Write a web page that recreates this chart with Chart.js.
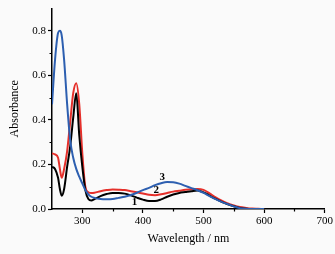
<!DOCTYPE html>
<html>
<head>
<meta charset="utf-8">
<script src="https://cdn.jsdelivr.net/npm/chart.js@4.4.1/dist/chart.umd.min.js"></script>
<style>
  html, body { margin: 0; padding: 0; background: #fafafa; }
  #wrap { width: 335px; height: 254px; }
</style>
</head>
<body>
<div id="wrap"><canvas id="absChart" width="335" height="254"></canvas></div>
<script>
// wavelength grid (nm)
const wavelength = [250, 255, 260, 263, 266, 270, 275, 280, 285, 290, 295, 300, 305, 310, 315, 320,
  330, 340, 350, 360, 370, 380, 390, 400, 410, 420, 430, 440, 450, 460, 470, 480, 490, 500,
  510, 520, 530, 540, 550, 560, 570, 580, 590, 600];

const curve1 = [0.19, 0.18, 0.14, 0.09, 0.06, 0.09, 0.19, 0.28, 0.41, 0.52, 0.33, 0.19, 0.085, 0.045, 0.038, 0.044,
  0.058, 0.067, 0.072, 0.072, 0.069, 0.061, 0.051, 0.042, 0.036, 0.036, 0.043, 0.055, 0.065, 0.072, 0.076, 0.08, 0.083, 0.075,
  0.06, 0.045, 0.032, 0.021, 0.012, 0.005, 0.001, 0, 0, 0];

const curve2 = [0.25, 0.245, 0.23, 0.18, 0.14, 0.18, 0.26, 0.39, 0.52, 0.565, 0.47, 0.25, 0.10, 0.075, 0.072, 0.073,
  0.08, 0.085, 0.088, 0.087, 0.085, 0.08, 0.075, 0.07, 0.064, 0.062, 0.066, 0.072, 0.078, 0.082, 0.086, 0.089, 0.09, 0.086,
  0.07, 0.052, 0.037, 0.025, 0.016, 0.009, 0.005, 0.002, 0.001, 0];

const curve3 = [0.47, 0.67, 0.79, 0.80, 0.78, 0.67, 0.47, 0.31, 0.23, 0.18, 0.145, 0.115, 0.085, 0.066, 0.055, 0.05,
  0.045, 0.044, 0.045, 0.05, 0.055, 0.063, 0.073, 0.085, 0.095, 0.107, 0.116, 0.121, 0.12, 0.114, 0.104, 0.094, 0.084, 0.072,
  0.058, 0.044, 0.032, 0.022, 0.012, 0.004, 0.001, 0, 0, 0];

const xTicks = [300, 400, 500, 600, 700];
const xMinor = [350, 450, 550, 650];
const yTicks = [0, 0.2, 0.4, 0.6, 0.8];
const yMinor = [0.1, 0.3, 0.5, 0.7];

// curve number labels: [text, wavelength, absorbance]
const curveLabels = [['1', 386, 0.03], ['2', 422, 0.085], ['3', 432, 0.142]];

const serif = "'Liberation Serif', 'Times New Roman', serif";

function pts(ys) {
  return wavelength.map((w, i) => ({ x: w, y: ys[i] }));
}

const extras = {
  id: 'extras',
  beforeDraw(chart) {
    const ctx = chart.ctx;
    ctx.save();
    ctx.fillStyle = '#fafafa';
    ctx.fillRect(0, 0, chart.width, chart.height);
    ctx.restore();
  },
  afterDraw(chart) {
    const ctx = chart.ctx;
    const xs = chart.scales.x, ys = chart.scales.y;
    ctx.save();
    ctx.strokeStyle = '#000';
    ctx.lineWidth = 1.2;
    ctx.beginPath();
    xMinor.forEach(v => {
      const px = Math.round(xs.getPixelForValue(v)) + 0.5;
      ctx.moveTo(px, xs.top);
      ctx.lineTo(px, xs.top + 2.5);
    });
    yMinor.forEach(v => {
      const py = Math.round(ys.getPixelForValue(v)) + 0.5;
      ctx.moveTo(ys.right, py);
      ctx.lineTo(ys.right - 2.5, py);
    });
    ctx.stroke();

    ctx.fillStyle = '#000';
    ctx.font = 'bold 11px ' + serif;
    ctx.textAlign = 'center';
    ctx.textBaseline = 'middle';
    curveLabels.forEach(([t, w, a]) => {
      ctx.fillText(t, xs.getPixelForValue(w), ys.getPixelForValue(a));
    });
    ctx.restore();
  }
};

new Chart(document.getElementById('absChart'), {
  type: 'line',
  data: {
    datasets: [
      { label: '3', data: pts(curve3), borderColor: '#2d5fb0', borderWidth: 2 },
      { label: '1', data: pts(curve1), borderColor: '#000000', borderWidth: 2 },
      { label: '2', data: pts(curve2), borderColor: '#e5302b', borderWidth: 2 }
    ]
  },
  options: {
    responsive: false,
    animation: false,
    layout: { padding: { top: 7, right: 9, left: 0, bottom: 0 } },
    elements: {
      point: { radius: 0 },
      line: { cubicInterpolationMode: 'monotone', fill: false }
    },
    plugins: {
      legend: { display: false },
      tooltip: { enabled: false }
    },
    scales: {
      x: {
        type: 'linear',
        min: 250,
        max: 700,
        afterBuildTicks: s => { s.ticks = xTicks.map(v => ({ value: v })); },
        afterFit: s => { s.height = 45; },
        border: { display: true, color: '#000', width: 1.5 },
        grid: { drawOnChartArea: false, tickLength: 4, tickColor: '#000', tickWidth: 1.2 },
        ticks: { color: '#000', font: { family: serif, size: 11 }, padding: 2, maxRotation: 0,
                 callback: v => String(v) },
        title: { display: true, text: 'Wavelength / nm', color: '#000',
                 font: { family: serif, size: 12 }, padding: { top: 0, bottom: 8 } }
      },
      y: {
        min: 0,
        max: 0.9,
        afterBuildTicks: s => { s.ticks = yTicks.map(v => ({ value: v })); },
        afterFit: s => { s.width = 52; },
        border: { display: true, color: '#000', width: 1.5 },
        grid: { drawOnChartArea: false, tickLength: 4, tickColor: '#000', tickWidth: 1.2 },
        ticks: { color: '#000', font: { family: serif, size: 11 }, padding: 2,
                 callback: v => v.toFixed(1) },
        title: { display: true, text: 'Absorbance', color: '#000',
                 font: { family: serif, size: 12 }, padding: { top: 8, bottom: 0 } }
      }
    }
  },
  plugins: [extras]
});
</script>
</body>
</html>
